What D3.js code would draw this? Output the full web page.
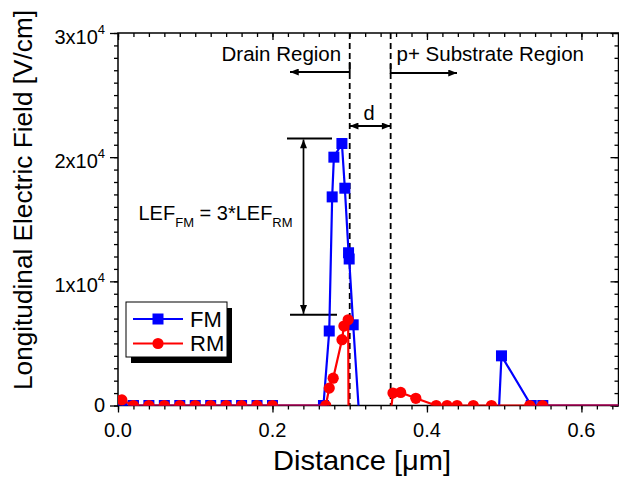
<!DOCTYPE html>
<html>
<head>
<meta charset="utf-8">
<script src="https://cdn.jsdelivr.net/npm/d3@7"></script>
<style>
  body { margin: 0; background: #fff; }
  svg { display: block; }
  text { font-family: "Liberation Sans", Arial, sans-serif; fill: #000; }
</style>
</head>
<body>
<svg id="chart" width="619" height="477"></svg>
<script>
// Longitudinal electric field along the channel, forward (FM) and reverse (RM) mode
const fmDistance = [0.005, 0.02, 0.04, 0.06, 0.08, 0.10, 0.12, 0.14, 0.16, 0.18, 0.20,
  0.266, 0.2735, 0.2773, 0.2795, 0.2899, 0.2937, 0.2985, 0.2993, 0.3045, 0.312,
  0.493, 0.4965, 0.535, 0.550, 0.66];
const fmField = [0, 0, 0, 0, 0, 0, 0, 0, 0, 0, 0,
  0, 6000, 16800, 20000, 21100, 17500, 12300, 11800, 6500, -600,
  -600, 4000, 0, 0, 0];

const rmDistance = [0.005, 0.02, 0.04, 0.06, 0.08, 0.10, 0.12, 0.14, 0.16, 0.18, 0.20,
  0.269, 0.2735, 0.2786, 0.290, 0.2925, 0.298, 0.2985,
  0.353, 0.356, 0.366, 0.3856, 0.412, 0.426, 0.439, 0.460, 0.4835, 0.533, 0.5496, 0.66];
const rmField = [450, 0, 0, 0, 0, 0, 0, 0, 0, 0, 0,
  0, 1400, 2200, 5300, 6400, 6900, -600,
  -600, 1000, 1050, 580, 0, 0, 0, 0, 0, 0, 0, 0];

const xMajorTicks = [0, 0.2, 0.4, 0.6];
const xTickLabels = ["0.0", "0.2", "0.4", "0.6"];
const yMajorTicks = [0, 10000, 20000, 30000];
const yTickMantissa = ["0", "1", "2", "3"];

// region boundaries and the field-ratio annotation levels
const drainEdge = 0.3;
const substrateEdge = 0.353;
const lefTop = 21500;
const lefBottom = 7300;

const svg = d3.select("#chart");
const pL = 118, pR = 618.5, pT = 33, pB = 405.5;

const x = d3.scaleLinear().domain([0, 0.648]).range([pL, pR]);
const y = d3.scaleLinear().domain([0, 30000]).range([pB, pT]);

const xMinor = d3.range(0, 0.6401, 0.02).map(v => +v.toFixed(2));
const yMinor = d3.range(0, 30001, 1000);

// ---- axes ----
function styleAxis(g) {
  g.select(".domain").remove();
  g.selectAll("line").attr("stroke", "#000").attr("stroke-width", 1.3);
}
svg.append("g").attr("transform", `translate(0,${pB})`)
  .call(d3.axisBottom(x).tickValues(xMinor).tickSize(4).tickFormat("")).call(styleAxis);
svg.append("g").attr("transform", `translate(0,${pB})`)
  .call(d3.axisBottom(x).tickValues(xMajorTicks).tickSize(7).tickFormat("")).call(styleAxis);
svg.append("g").attr("transform", `translate(0,${pT})`)
  .call(d3.axisTop(x).tickValues(xMinor).tickSize(-4).tickFormat("")).call(styleAxis);
svg.append("g").attr("transform", `translate(0,${pT})`)
  .call(d3.axisTop(x).tickValues(xMajorTicks).tickSize(-7).tickFormat("")).call(styleAxis);
svg.append("g").attr("transform", `translate(${pL},0)`)
  .call(d3.axisLeft(y).tickValues(yMinor).tickSize(4).tickFormat("")).call(styleAxis);
svg.append("g").attr("transform", `translate(${pL},0)`)
  .call(d3.axisLeft(y).tickValues(yMajorTicks).tickSize(8).tickFormat("")).call(styleAxis);
svg.append("g").attr("transform", `translate(${pR},0)`)
  .call(d3.axisRight(y).tickValues(yMinor).tickSize(-4).tickFormat("")).call(styleAxis);
svg.append("g").attr("transform", `translate(${pR},0)`)
  .call(d3.axisRight(y).tickValues(yMajorTicks).tickSize(-8).tickFormat("")).call(styleAxis);

svg.append("rect").attr("x", pL).attr("y", pT)
  .attr("width", pR - pL).attr("height", pB - pT)
  .attr("fill", "none").attr("stroke", "#000").attr("stroke-width", 1.5);

// tick labels
svg.append("g").selectAll("text").data(xMajorTicks).join("text")
  .attr("x", d => x(d)).attr("y", 437).attr("text-anchor", "middle")
  .attr("font-size", 20).text((d, i) => xTickLabels[i]);

const yLab = svg.append("g").selectAll("text").data(yMajorTicks).join("text")
  .attr("x", 105).attr("y", d => y(d) + (d === 0 ? 6 : 10.5))
  .attr("text-anchor", "end").attr("font-size", 20);
yLab.each(function (d, i) {
  const t = d3.select(this);
  if (d === 0) { t.text(yTickMantissa[i]); return; }
  t.append("tspan").text(yTickMantissa[i] + "x10");
  t.append("tspan").attr("font-size", 13).attr("dy", -10).text("4");
});

// axis titles
svg.append("text").attr("x", 362).attr("y", 470).attr("text-anchor", "middle")
  .attr("font-size", 28.5).attr("textLength", 178).attr("lengthAdjust", "spacingAndGlyphs")
  .text("Distance [\u03bcm]");
svg.append("text").attr("transform", "translate(32,200) rotate(-90)")
  .attr("text-anchor", "middle").attr("font-size", 25.5)
  .attr("textLength", 380).attr("lengthAdjust", "spacingAndGlyphs")
  .text("Longitudinal Electric Field [V/cm]");

// ---- annotations ----
const defs = svg.append("defs");
defs.append("marker").attr("id", "arrow").attr("viewBox", "0 0 10 8")
  .attr("refX", 10).attr("refY", 4).attr("markerWidth", 11).attr("markerHeight", 7)
  .attr("markerUnits", "userSpaceOnUse").attr("orient", "auto-start-reverse")
  .append("path").attr("d", "M0,0 L10,4 L0,8 Z").attr("fill", "#000");

defs.append("clipPath").attr("id", "plotClip").append("rect")
  .attr("x", pL).attr("y", pT).attr("width", pR - pL).attr("height", pB - pT);

const ann = svg.append("g").attr("stroke", "#000").attr("fill", "none");
[drainEdge, substrateEdge].forEach(v => {
  ann.append("line").attr("x1", x(v)).attr("x2", x(v)).attr("y1", pT).attr("y2", pB)
    .attr("stroke-width", 1.8).attr("stroke-dasharray", "6,4");
});
ann.append("path").attr("d", `M${x(drainEdge)},62 V72 H290`)
  .attr("stroke-width", 1.8).attr("marker-end", "url(#arrow)");
ann.append("path").attr("d", `M${x(substrateEdge)},64 V73 H457`)
  .attr("stroke-width", 1.8).attr("marker-end", "url(#arrow)");
ann.append("line").attr("x1", x(drainEdge)).attr("x2", x(substrateEdge))
  .attr("y1", 126).attr("y2", 126).attr("stroke-width", 1.8)
  .attr("marker-start", "url(#arrow)").attr("marker-end", "url(#arrow)");

ann.append("line").attr("x1", 287).attr("x2", 332).attr("y1", y(lefTop)).attr("y2", y(lefTop))
  .attr("stroke-width", 2);
ann.append("line").attr("x1", 290).attr("x2", 337).attr("y1", y(lefBottom)).attr("y2", y(lefBottom))
  .attr("stroke-width", 2);
ann.append("line").attr("x1", 303.5).attr("x2", 303.5)
  .attr("y1", y(lefTop) + 1).attr("y2", y(lefBottom) - 1).attr("stroke-width", 1.7)
  .attr("marker-start", "url(#arrow)").attr("marker-end", "url(#arrow)");

svg.append("text").attr("x", 221.5).attr("y", 61).attr("font-size", 20.5).text("Drain Region");
svg.append("text").attr("x", 396.5).attr("y", 61).attr("font-size", 20.5).text("p+ Substrate Region");
svg.append("text").attr("x", 369).attr("y", 120).attr("text-anchor", "middle")
  .attr("font-size", 20).text("d");

const lef = svg.append("text").attr("x", 138.5).attr("y", 220).attr("font-size", 20);
lef.append("tspan").text("LEF");
lef.append("tspan").attr("font-size", 13).attr("dy", 6.5).text("FM");
lef.append("tspan").attr("dy", -6.5).text(" = 3*LEF");
lef.append("tspan").attr("font-size", 13).attr("dy", 6.5).text("RM");

// ---- series ----
const series = [
  { name: "FM", xs: fmDistance, ys: fmField, color: "#0000ff", shape: "square" },
  { name: "RM", xs: rmDistance, ys: rmField, color: "#ff0000", shape: "circle" }
];
const line = d3.line().x(d => x(d[0])).y(d => y(d[1]));
const plot = svg.append("g").attr("clip-path", "url(#plotClip)");

function drawMarker(g, shape, color, cx, cy) {
  if (shape === "square") {
    g.append("rect").attr("x", cx - 5.5).attr("y", cy - 5.5)
      .attr("width", 11).attr("height", 11).attr("fill", color);
  } else {
    g.append("circle").attr("cx", cx).attr("cy", cy).attr("r", 5.6).attr("fill", color);
  }
}

series.forEach(s => {
  const pts = s.xs.map((v, i) => [v, s.ys[i]]);
  const g = plot.append("g");
  g.append("path").datum(pts).attr("d", line)
    .attr("fill", "none").attr("stroke", s.color).attr("stroke-width", 2.2)
    .attr("stroke-linejoin", "round");
  pts.forEach(p => drawMarker(g, s.shape, s.color, x(p[0]), y(p[1])));
});

// ---- legend ----
const lg = svg.append("g");
lg.append("rect").attr("x", 131).attr("y", 308).attr("width", 101).attr("height", 55).attr("fill", "#000");
lg.append("rect").attr("x", 126).attr("y", 302).attr("width", 101).attr("height", 55)
  .attr("fill", "#fff").attr("stroke", "#000").attr("stroke-width", 1);
series.forEach((s, i) => {
  const ly = 319 + i * 24.5;
  lg.append("line").attr("x1", 133).attr("x2", 183).attr("y1", ly).attr("y2", ly)
    .attr("stroke", s.color).attr("stroke-width", 2.2);
  drawMarker(lg, s.shape, s.color, 158, ly);
  lg.append("text").attr("x", 190).attr("y", ly + 7.5).attr("font-size", 22).text(s.name);
});
</script>
</body>
</html>
